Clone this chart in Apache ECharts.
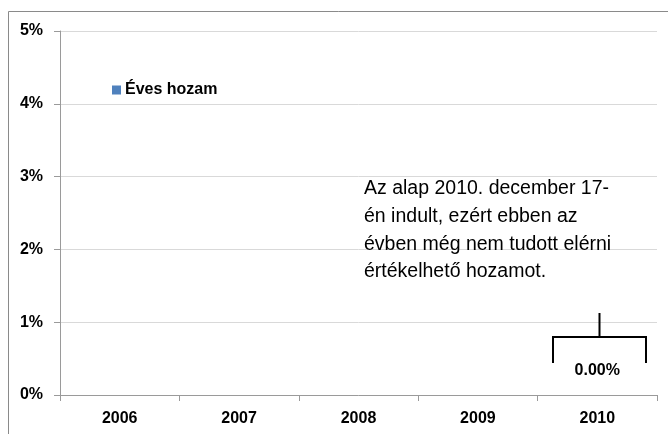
<!DOCTYPE html>
<html>
<head>
<meta charset="utf-8">
<script src="https://cdn.jsdelivr.net/npm/echarts@6/dist/echarts.min.js"></script>
<style>html,body{margin:0;padding:0;background:#fff}#c{width:668px;height:434px}</style>
</head>
<body>
<div id="c"></div>
<script>
const categories = ['2006', '2007', '2008', '2009', '2010'];
const evesHozam = [null, null, null, null, 0];
const seriesName = 'Éves hozam';
const noteLines = [
  'Az alap 2010. december 17-',
  'én indult, ezért ebben az',
  'évben még nem tudott elérni',
  'értékelhető hozamot.'
];

const chart = echarts.init(document.getElementById('c'), null, {renderer: 'canvas'});
const FONT = 'Liberation Sans';
const LBL = {fontFamily: FONT, fontWeight: 'bold', fontSize: 16, color: '#000'};
const option = {
  animation: false,
  backgroundColor: '#fff',
  textStyle: {fontFamily: FONT},
  grid: {left: 60, right: 11, top: 31, bottom: 39, containLabel: false},
  legend: {
    data: [seriesName],
    left: 107, top: 77,
    icon: 'rect', itemWidth: 9, itemHeight: 9, itemGap: 4,
    textStyle: Object.assign({padding: [0, 0, 0, -1]}, LBL)
  },
  xAxis: {
    type: 'category',
    data: categories,
    axisLine: {lineStyle: {color: '#9a9a9a'}},
    axisTick: {show: true, length: 6, lineStyle: {color: '#9a9a9a'}},
    axisLabel: Object.assign({margin: 16}, LBL)
  },
  yAxis: {
    type: 'value',
    min: 0, max: 5, interval: 1,
    axisLine: {show: true, lineStyle: {color: '#9a9a9a'}},
    axisTick: {show: true, length: 6, lineStyle: {color: '#9a9a9a'}},
    splitLine: {lineStyle: {color: '#d9d9d9'}},
    axisLabel: Object.assign({margin: 17, formatter: v => v + '%'}, LBL)
  },
  series: [{
    name: seriesName,
    type: 'bar',
    data: evesHozam,
    itemStyle: {color: '#4f81bd'},
    label: Object.assign({
      show: true, position: 'top', distance: 16,
      formatter: p => (p.value == null ? '' : p.value.toFixed(2) + '%')
    }, LBL)
  }]
};
chart.setOption(option);

const idx = evesHozam.findIndex(v => v != null);
const p = chart.convertToPixel({gridIndex: 0}, [idx, evesHozam[idx]]);
const cx = Math.round(p[0]) + 2.5;
const by = Math.round(p[1]);
const half = 46.5;
const stroke = {stroke: '#000', lineWidth: 2};
chart.setOption({
  graphic: [
    {type: 'rect', shape: {x: 8.5, y: 11.5, width: 700, height: 500}, style: {fill: 'none', stroke: '#8a8a8a', lineWidth: 1}, silent: true},
    {type: 'polyline', shape: {points: [[cx - half, by - 32], [cx - half, by - 58], [cx + half, by - 58], [cx + half, by - 32]]}, style: Object.assign({fill: 'none'}, stroke)},
    {type: 'line', shape: {x1: cx, y1: by - 82, x2: cx, y2: by - 58}, style: stroke},
    {type: 'text', left: 364, top: 175, style: {text: noteLines.join('\n'), fontFamily: FONT, fontSize: 19.5, lineHeight: 27.7, fill: '#000'}}
  ]
});
</script>
</body>
</html>
